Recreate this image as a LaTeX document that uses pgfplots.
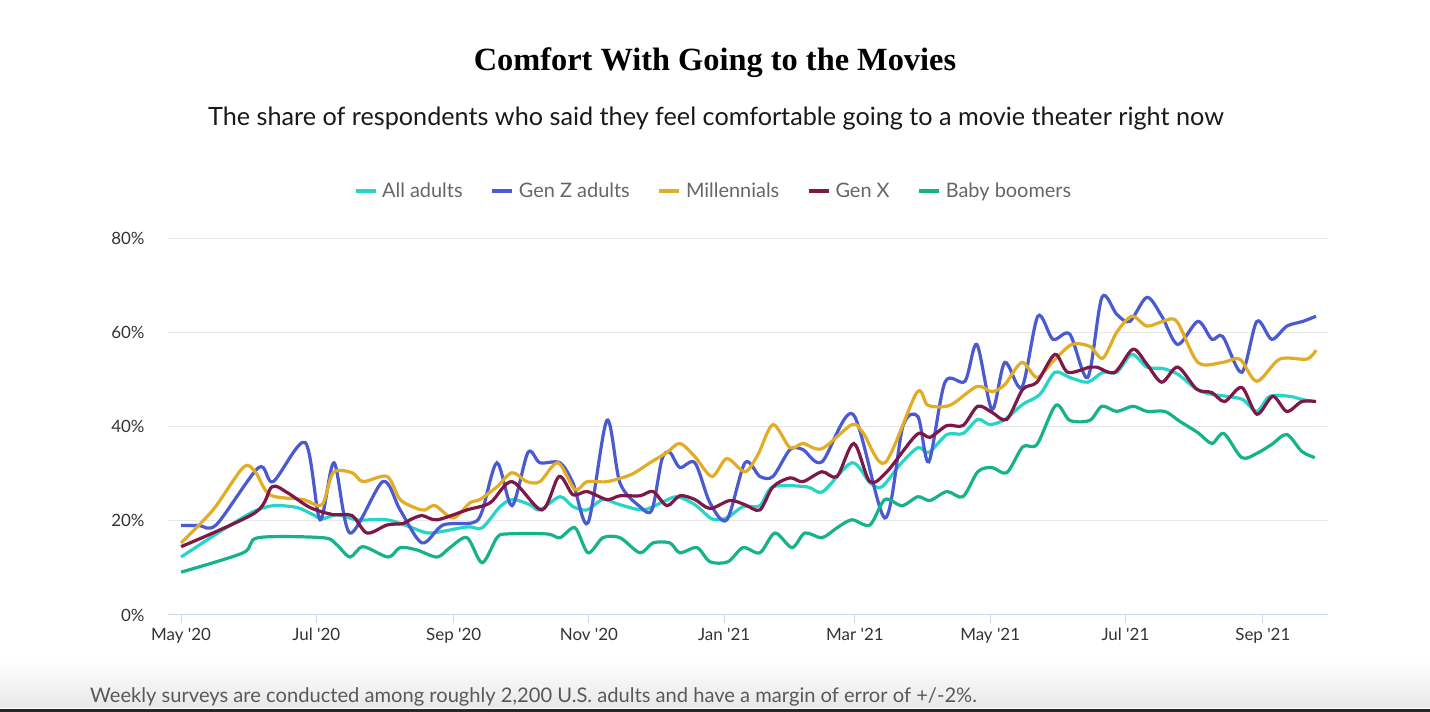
\documentclass[border=0pt]{standalone}
\usepackage{pgfplots}
\pgfplotsset{compat=1.18}
\usepackage{fontspec}
\setmainfont{Lato}
\newfontfamily\titlefont{Liberation Serif}
\definecolor{cAll}{RGB}{38,212,200}
\definecolor{cGenZ}{RGB}{74,90,208}
\definecolor{cMil}{RGB}{226,172,37}
\definecolor{cGenX}{RGB}{126,24,72}
\definecolor{cBoom}{RGB}{22,179,138}
\definecolor{axisline}{RGB}{204,214,235}
\definecolor{gridc}{RGB}{230,230,230}
\definecolor{ticktext}{RGB}{51,51,51}
\definecolor{legtext}{RGB}{102,102,102}
\begin{document}
\begin{tikzpicture}
\path[use as bounding box] (0bp,0bp) rectangle (1430bp,712bp);
\fill[top color=white,bottom color=black!9] (0bp,4bp) rectangle (1430bp,52bp);
\fill[black!85] (0bp,0bp) rectangle (1430bp,3bp);
\node[font=\titlefont\bfseries\fontsize{32.5}{36}\selectfont] at (715bp,649bp) {Comfort With Going to the Movies};
\node[font=\fontsize{25.3}{29}\selectfont, text=black!90] at (716bp,593bp) {The share of respondents who said they feel comfortable going to a movie theater right now};
\node[anchor=west, font=\fontsize{20.2}{24}\selectfont, text=black!65, inner sep=0pt] at (90bp,15bp) {Weekly surveys are conducted among roughly 2,200 U.S. adults and have a margin of error of +/-2\%.};
\begin{axis}[
  at={(168bp,97bp)}, anchor=south west,
  width=1160bp, height=377bp, scale only axis,
  xmin=-5.9, xmax=517.4, ymin=0, ymax=80,
  axis line style={draw=none},
  axis x line*=bottom,
  x axis line style={draw=axisline, line width=1bp},
  xtick={0,61,123,184,245,304,365,426,488},
  xticklabels={May \textquotesingle20,Jul \textquotesingle20,Sep \textquotesingle20,Nov \textquotesingle20,Jan \textquotesingle21,Mar \textquotesingle21,May \textquotesingle21,Jul \textquotesingle21,Sep \textquotesingle21},
  x tick style={draw=axisline, line width=1bp},
  major tick length=8bp,
  xtick pos=bottom, tick align=outside,
  ytick={0,20,40,60,80},
  yticklabels={0\%,20\%,40\%,60\%,80\%},
  ytick style={draw=none},
  ymajorgrids, grid style={draw=gridc, line width=1bp},
  yticklabel style={font=\fontsize{17}{20}\selectfont, text=ticktext, xshift=-12bp},
  xticklabel style={font=\fontsize{17}{20}\selectfont, text=ticktext, yshift=-2bp},
  every axis plot/.append style={line width=3.2bp, smooth, tension=0.5, no markers},
  legend columns=5,
  legend style={at={(0.4716,1.1247)}, anchor=center, draw=none, fill=none,
    font=\fontsize{20}{24}\selectfont, text=legtext,
    nodes={inner xsep=5bp},
    /tikz/every even column/.append style={column sep=23bp}},
  legend image code/.code={\draw[#1, line width=3.2bp] (0bp,0bp) -- (20bp,0bp);},
  clip=false,
]
\addplot[cAll] coordinates {
(0,12.3) (17.6,17.7) (32.5,21.9) (41.5,23.2) (52.3,22.8) (59.5,21.3) (63.6,20.4) (70.4,21.3) (79.4,20.2) (92.9,20.2) (103.3,18.7) (112.3,17.4) (129,18.7) (135.8,18.5) (143.9,23) (149.7,24.5) (157.4,23.4) (161.9,22.3) (170.9,25.1) (176.8,23) (183.1,22.3) (190.3,24.5) (198,23.4) (208.4,22.3) (217.4,24) (223.7,25.1) (231.8,23.4) (239.5,20.4) (246.2,20.6) (253.5,23) (261.1,23.2) (267,27.2) (282.3,27.2) (289.5,26.2) (302.6,32.3) (310.7,28.1) (316.1,27.2) (324.3,31.9) (332.4,35.5) (337.3,34.5) (345.5,38.3) (352.7,38.5) (359.4,41.5) (364.9,40.4) (371.6,41.5) (379.7,44.7) (387.4,46.8) (394.2,51.5) (400.9,50.4) (409,49.4) (415.8,51.5) (422.1,51.5) (428.9,55.3) (435.7,52.6) (442.9,52.3) (449.6,51.1) (458.2,47.9) (465,46.8) (471.7,46.4) (479,45.7) (485.3,43.2) (491.1,46.4) (500.1,46.4) (506,45.7) (511,45.3)
};
\addlegendentry{All adults}
\addplot[cGenZ] coordinates {
(0,19) (8,19) (16,19.2) (35,31.3) (41.5,28.3) (56,36.6) (62.7,20.2) (69,32.3) (76.2,17.4) (91,28.3) (98.8,22.3) (108.7,15.3) (118.2,19.1) (131.7,19.6) (135.8,22) (142.5,32.3) (149.3,23.2) (156.5,34.5) (161.9,32.3) (170.9,32.3) (176.8,28) (183.6,19.6) (192.1,41.3) (198,28) (207,23) (212.4,22.3) (216.9,33) (220.5,34.5) (225,31.3) (231.8,32.3) (238.6,23.8) (246.2,20.2) (254.4,32.3) (261.1,29.4) (267,29.4) (274.7,35.1) (280.5,35.1) (289.1,32.5) (303.1,42.6) (317.5,20.6) (325.6,40) (332.4,42.1) (337.3,32.5) (344.6,49.4) (353.6,49.6) (359,57.4) (365.8,43.6) (371.6,53.6) (379.3,48.3) (386.5,63.4) (393.3,58.5) (400.9,59.6) (409,50.4) (415.4,67.4) (422.1,63.8) (428,62.3) (435.7,67.4) (442.4,63.4) (449.6,57.4) (458.7,62.3) (465,58.5) (469.9,59.1) (478.5,51.5) (485.3,62.3) (492,58.5) (498.8,61.3) (506,62.3) (512,63.4)
};
\addlegendentry{Gen Z adults}
\addplot[cMil] coordinates {
(0,15.3) (14.4,22.3) (28,31.3) (33.4,30.4) (40.1,25.5) (55,24.5) (63.6,23.4) (68.6,30.2) (77.1,30.2) (82.1,28.3) (92.9,29.4) (98.8,24.5) (106.4,22.6) (110,22.3) (114.6,23.2) (122.7,20.6) (130.3,23.8) (134.8,24.5) (142.5,27.2) (149.3,30.2) (156,28.3) (161.9,28.3) (170,32.3) (177.7,26.6) (183.1,28.3) (192.1,28.3) (203,29.8) (211.5,32.3) (219.2,34.5) (225,36.4) (231.8,33.6) (239.5,29.4) (246.2,33.2) (254.4,30.4) (260.2,34) (267,40.4) (274.7,35.5) (280.5,36.4) (289.1,35.3) (302.6,40.4) (307.6,38.7) (317.5,32.3) (331.9,47.2) (336.9,44.5) (346.8,44.5) (359,48.5) (365.8,47.4) (371.6,48.9) (379.3,53.6) (386.1,50.4) (393.3,53.8) (401.8,57.4) (409.9,57) (415.8,54.5) (422.1,60) (428.9,63.4) (435.7,61.3) (442.9,62.3) (449.2,62.3) (458.7,53.6) (469.9,53.6) (477.6,54.3) (485.3,49.6) (495.6,54.3) (507.8,54.3) (512,56.2)
};
\addlegendentry{Millennials}
\addplot[cGenX] coordinates {
(0,14.5) (33.4,21.7) (41,27.2) (47.8,26) (58.2,22.8) (68.6,21.3) (77.1,21.1) (83.9,17.4) (92.9,19.1) (100.1,19.4) (103.3,20.2) (108.7,21.1) (115.5,20.2) (129,22.3) (139.4,23.8) (149.3,28.3) (162.8,22.3) (170.5,29.4) (176.8,25.5) (183.1,26.2) (192.1,24.5) (198,25.3) (207,25.3) (212.9,26.2) (219.2,23.2) (225,25.3) (231.8,24.5) (238.6,22.6) (247.6,24.3) (254.4,23.4) (261.1,22.3) (267,27.2) (274.7,29.1) (280.5,28.3) (289.1,30.4) (295.9,29.4) (303.5,36.4) (310.7,28.3) (318.4,30.4) (331.9,38.3) (337.8,37.7) (345.5,40.2) (352.7,40.2) (359.4,44.3) (365.8,43) (372.5,41.5) (379.7,47.9) (386.1,49.4) (394.2,55.3) (400,51.5) (409.9,52.6) (413.1,52.6) (421.2,51.5) (429.4,56.4) (435.7,53.2) (442.4,49.4) (449.6,52.6) (458.2,47.9) (465,47.2) (470.8,45.3) (478.5,48.3) (485.3,42.6) (492.5,46.4) (498.8,43.2) (505.6,45.3) (512,45.3)
};
\addlegendentry{Gen X}
\addplot[cBoom] coordinates {
(0,9.1) (28,13.2) (34.7,16.4) (64,16.4) (70,15) (76.2,12.3) (82.1,14.5) (93.4,12.3) (98.8,14.3) (106.4,13.8) (115.5,12.3) (121.3,14.3) (129,16.4) (135.8,11.1) (142.5,16.4) (147,17.2) (165.1,17.2) (170.9,16.4) (177.7,18.5) (183.6,13.2) (190.3,16.4) (198,16.4) (207,13.2) (212.9,15.3) (220.5,15.3) (225,13.2) (232.7,14.3) (238.6,11.3) (246.7,11.3) (253.5,14.3) (261.1,13.2) (267.9,17.4) (275.6,14.3) (281.4,17.4) (289.1,16.4) (295.9,18.5) (302.6,20.2) (310.7,19.1) (317.5,24.5) (325.2,23.2) (332.4,25.1) (337.8,24.3) (345.5,26.2) (352.7,25.1) (359.4,30.4) (365.8,31.3) (372.5,30.2) (379.7,35.7) (386.1,36.2) (394.6,44.5) (400.9,41.3) (409.9,41.3) (415.4,44.3) (422.1,43.2) (429.4,44.3) (435.7,43.2) (443.8,43.2) (450.5,41.1) (458.7,38.7) (465,36.4) (470.4,38.5) (478.5,33.4) (485.3,34.3) (492,36.2) (498.8,38.3) (505.6,34.7) (511.4,33.4)
};
\addlegendentry{Baby boomers}
\end{axis}
\end{tikzpicture}
\end{document}
